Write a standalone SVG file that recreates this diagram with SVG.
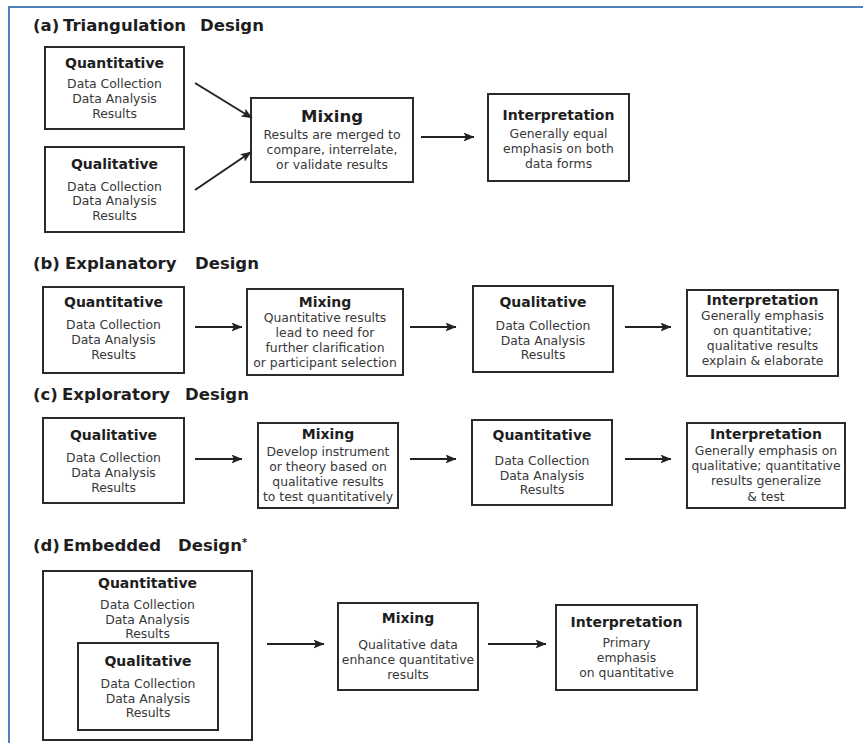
<svg xmlns="http://www.w3.org/2000/svg" width="863" height="743" viewBox="0 0 863 743">
<defs>
<marker id="ah" viewBox="0 0 11 9" refX="10.5" refY="4.5" markerWidth="11" markerHeight="9" markerUnits="userSpaceOnUse" orient="auto">
<path d="M0,0 L11,4.5 L0,9 L2.5,4.5 z" fill="#222"/>
</marker>
<style>
.box{fill:#fff;stroke:#2b2b2b;stroke-width:2}
.h{font-family:"DejaVu Sans","Liberation Sans",sans-serif;font-weight:bold;font-size:14px;fill:#1e1e1e;text-anchor:middle}
.hm{font-size:16.5px}
.b{font-family:"DejaVu Sans","Liberation Sans",sans-serif;font-size:12.4px;fill:#383838;text-anchor:middle}
.t{font-family:"DejaVu Sans","Liberation Sans",sans-serif;font-weight:bold;font-size:16.5px;fill:#1e1e1e}
.c{stroke:#222;stroke-width:2;fill:none;marker-end:url(#ah)}
.frame{stroke:#4f81bd;stroke-width:2;fill:none}
</style>
</defs>
<rect width="863" height="743" fill="#fff"/>
<path class="frame" d="M9,743 L9,7 L863,7"/>

<g id="titles">
<text class="t" y="31"><tspan x="33">(a)</tspan><tspan x="63">Triangulation</tspan><tspan x="200">Design</tspan></text>
<text class="t" y="269"><tspan x="33">(b)</tspan><tspan x="65">Explanatory</tspan><tspan x="195">Design</tspan></text>
<text class="t" y="400"><tspan x="33">(c)</tspan><tspan x="62">Exploratory</tspan><tspan x="185">Design</tspan></text>
<text class="t" y="551"><tspan x="33">(d)</tspan><tspan x="63">Embedded</tspan><tspan x="178">Design</tspan><tspan font-size="10" dy="-5">*</tspan></text>
</g>

<!-- (a) -->
<g id="a-quant">
<rect class="box" x="45" y="47" width="139" height="82"/>
<text class="h" x="114.5" y="68">Quantitative</text>
<text class="b" x="114.5" y="88">Data Collection</text>
<text class="b" x="114.5" y="103">Data Analysis</text>
<text class="b" x="114.5" y="118">Results</text>
</g>
<g id="a-qual">
<rect class="box" x="45" y="147" width="139" height="85"/>
<text class="h" x="114.5" y="169">Qualitative</text>
<text class="b" x="114.5" y="191">Data Collection</text>
<text class="b" x="114.5" y="205">Data Analysis</text>
<text class="b" x="114.5" y="220">Results</text>
</g>
<g id="a-mix">
<rect class="box" x="251" y="98" width="162" height="84"/>
<text class="h hm" x="332" y="122">Mixing</text>
<text class="b" x="332" y="139">Results are merged to</text>
<text class="b" x="332" y="154">compare, interrelate,</text>
<text class="b" x="332" y="169">or validate results</text>
</g>
<g id="a-interp">
<rect class="box" x="488" y="94" width="141" height="87"/>
<text class="h" x="558.5" y="120">Interpretation</text>
<text class="b" x="558.5" y="138">Generally equal</text>
<text class="b" x="558.5" y="153">emphasis on both</text>
<text class="b" x="558.5" y="168">data forms</text>
</g>

<!-- (b) -->
<g id="b-quant">
<rect class="box" x="43" y="287" width="141" height="86"/>
<text class="h" x="113.5" y="307">Quantitative</text>
<text class="b" x="113.5" y="329">Data Collection</text>
<text class="b" x="113.5" y="344">Data Analysis</text>
<text class="b" x="113.5" y="359">Results</text>
</g>
<g id="b-mix">
<rect class="box" x="247" y="289" width="156" height="86"/>
<text class="h" x="325" y="307">Mixing</text>
<text class="b" x="325" y="322">Quantitative results</text>
<text class="b" x="325" y="337">lead to need for</text>
<text class="b" x="325" y="352">further clarification</text>
<text class="b" x="325" y="367">or participant selection</text>
</g>
<g id="b-qual">
<rect class="box" x="473" y="286" width="140" height="86"/>
<text class="h" x="543" y="307">Qualitative</text>
<text class="b" x="543" y="330">Data Collection</text>
<text class="b" x="543" y="345">Data Analysis</text>
<text class="b" x="543" y="359">Results</text>
</g>
<g id="b-interp">
<rect class="box" x="687" y="290" width="151" height="86"/>
<text class="h" x="762.5" y="305">Interpretation</text>
<text class="b" x="762.5" y="320">Generally emphasis</text>
<text class="b" x="762.5" y="335">on quantitative;</text>
<text class="b" x="762.5" y="350">qualitative results</text>
<text class="b" x="762.5" y="365">explain &amp; elaborate</text>
</g>

<!-- (c) -->
<g id="c-qual">
<rect class="box" x="43" y="418" width="141" height="85"/>
<text class="h" x="113.5" y="440">Qualitative</text>
<text class="b" x="113.5" y="462">Data Collection</text>
<text class="b" x="113.5" y="477">Data Analysis</text>
<text class="b" x="113.5" y="492">Results</text>
</g>
<g id="c-mix">
<rect class="box" x="258" y="423" width="140" height="85"/>
<text class="h" x="328" y="439">Mixing</text>
<text class="b" x="328" y="456">Develop instrument</text>
<text class="b" x="328" y="471">or theory based on</text>
<text class="b" x="328" y="486">qualitative results</text>
<text class="b" x="328" y="501">to test quantitatively</text>
</g>
<g id="c-quant">
<rect class="box" x="472" y="420" width="140" height="85"/>
<text class="h" x="542" y="440">Quantitative</text>
<text class="b" x="542" y="465">Data Collection</text>
<text class="b" x="542" y="480">Data Analysis</text>
<text class="b" x="542" y="494">Results</text>
</g>
<g id="c-interp">
<rect class="box" x="687" y="423" width="158" height="85"/>
<text class="h" x="766" y="439">Interpretation</text>
<text class="b" x="766" y="455">Generally emphasis on</text>
<text class="b" x="766" y="470">qualitative; quantitative</text>
<text class="b" x="766" y="485">results generalize</text>
<text class="b" x="766" y="501">&amp; test</text>
</g>

<!-- (d) -->
<g id="d-quant">
<rect class="box" x="43" y="571" width="209" height="169"/>
<text class="h" x="147.5" y="588">Quantitative</text>
<text class="b" x="147.5" y="609">Data Collection</text>
<text class="b" x="147.5" y="624">Data Analysis</text>
<text class="b" x="147.5" y="638">Results</text>
</g>
<g id="d-qual">
<rect class="box" x="78" y="643" width="140" height="87"/>
<text class="h" x="148" y="666">Qualitative</text>
<text class="b" x="148" y="688">Data Collection</text>
<text class="b" x="148" y="703">Data Analysis</text>
<text class="b" x="148" y="717">Results</text>
</g>
<g id="d-mix">
<rect class="box" x="338" y="603" width="140" height="87"/>
<text class="h" x="408" y="623">Mixing</text>
<text class="b" x="408" y="649">Qualitative data</text>
<text class="b" x="408" y="664">enhance quantitative</text>
<text class="b" x="408" y="679">results</text>
</g>
<g id="d-interp">
<rect class="box" x="556" y="605" width="141" height="85"/>
<text class="h" x="626.5" y="627">Interpretation</text>
<text class="b" x="626.5" y="647">Primary</text>
<text class="b" x="626.5" y="662">emphasis</text>
<text class="b" x="626.5" y="677">on quantitative</text>
</g>

<g id="connectors">
<line class="c" x1="195" y1="83" x2="252" y2="118"/>
<line class="c" x1="195" y1="190" x2="251" y2="152"/>
<line class="c" x1="421" y1="137" x2="474" y2="137"/>
<line class="c" x1="195" y1="327" x2="242" y2="327"/>
<line class="c" x1="410" y1="327" x2="456" y2="327"/>
<line class="c" x1="625" y1="327" x2="671" y2="327"/>
<line class="c" x1="195" y1="459" x2="242" y2="459"/>
<line class="c" x1="410" y1="459" x2="456" y2="459"/>
<line class="c" x1="625" y1="459" x2="671" y2="459"/>
<line class="c" x1="267" y1="644" x2="324" y2="644"/>
<line class="c" x1="488" y1="644" x2="546" y2="644"/>
</g>
</svg>
